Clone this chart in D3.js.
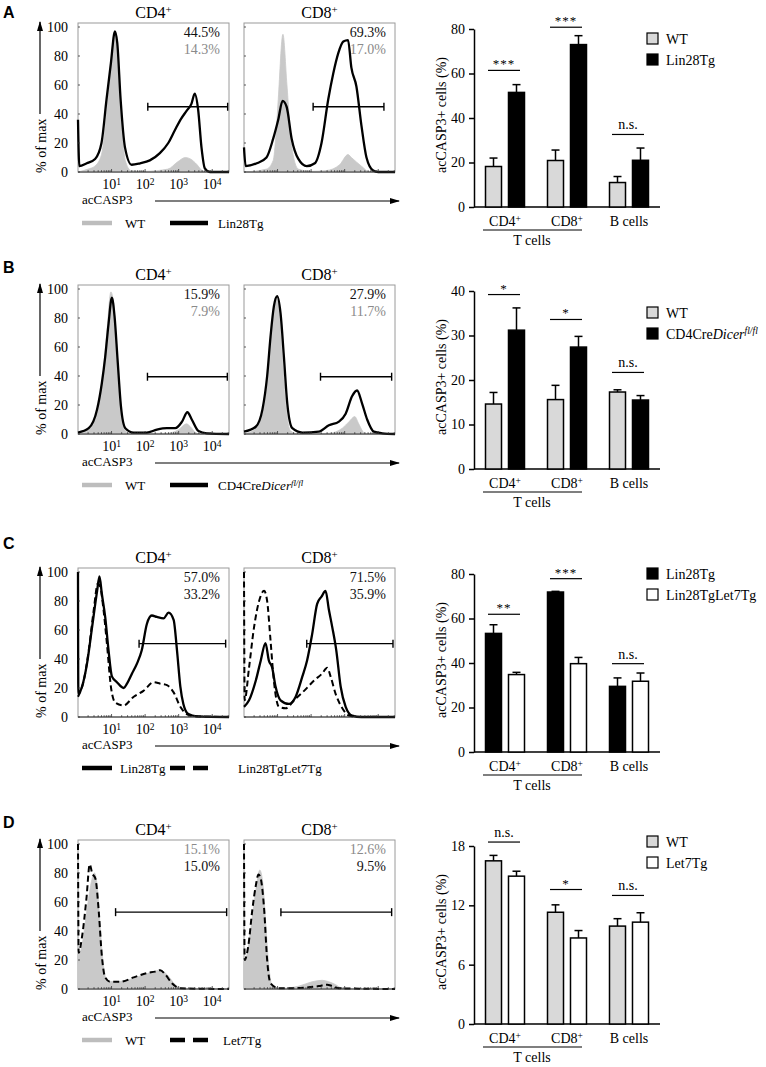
<!DOCTYPE html>
<html>
<head>
<meta charset="utf-8">
<script src="https://cdn.jsdelivr.net/npm/d3@7"></script>
<style>
body { margin: 0; background: #fff; }
svg text { font-family: "Liberation Serif", "Times New Roman", serif; }
</style>
</head>
<body>
<svg id="fig" width="766" height="1067"></svg>
<script>
// ---------- data ----------
// histogram x in log10 units (decades), y in % of max
const histTicks = [1, 2, 3, 4];
const histYTicks = [0, 20, 40, 60, 80, 100];
const groups = ["CD4", "CD8", "B cells"];

// A: WT vs Lin28Tg
const aCD4WT = [[0,0],[0.3,2],[0.5,4],[0.7,12],[0.85,40],[1.0,76],[1.1,94],[1.18,76],[1.28,40],[1.41,8],[1.58,1],[2.0,0.5],[2.68,2],[2.97,7],[3.2,10],[3.35,9],[3.55,5],[3.7,1],[3.9,0],[4.5,0]];
const aCD4Lin = [[0,36],[0.04,4],[0.26,6],[0.51,9],[0.7,20],[0.85,50],[0.98,75],[1.1,97],[1.17,89],[1.27,50],[1.4,17],[1.6,5],[1.85,6],[2.14,8],[2.44,13],[2.69,20],[2.89,29],[3.08,37],[3.23,42],[3.38,47],[3.48,54],[3.58,43],[3.68,17],[3.78,2.5],[3.93,0],[4.5,0]];
const aCD8WT = [[0,0],[0.67,2],[0.87,8],[0.95,25],[1.02,50],[1.16,95],[1.28,60],[1.42,18],[1.62,2],[2.0,0.5],[2.45,1],[2.85,5],[3.1,12],[3.2,10],[3.5,4],[3.75,0],[4.5,0]];
const aCD8Lin = [[0,17],[0.05,4],[0.38,6],[0.67,10],[0.87,23],[1.02,36],[1.15,49],[1.27,45],[1.42,23],[1.62,9],[1.87,4],[2.11,6],[2.31,20],[2.51,50],[2.66,68],[2.81,82],[2.96,90],[3.1,91],[3.2,72],[3.35,59],[3.5,32],[3.65,10],[3.85,1],[4.0,0],[4.5,0]];
const pctA = [["44.5%", "14.3%"], ["69.3%", "17.0%"]];
const gatesA = [[2.08, 4.46, 45], [2.06, 4.17, 45]];

// B: WT vs CD4Cre Dicer fl/fl
const bCD4WT = [[0,0],[0.32,3],[0.57,14],[0.71,33],[0.86,70],[0.98,98],[1.06,90],[1.16,51],[1.26,19],[1.38,3],[1.56,0.5],[2.65,0.5],[3.0,3],[3.23,7],[3.35,5],[3.5,1],[3.64,0],[4.5,0]];
const bCD4Dicer = [[0,1],[0.32,4],[0.57,17],[0.71,35],[0.81,53],[0.91,76],[1.01,94],[1.09,81],[1.18,51],[1.28,19],[1.41,4],[1.66,1],[2.05,1],[2.35,3],[2.65,4],[2.9,4],[3.1,8.5],[3.26,15],[3.39,10],[3.59,2],[3.84,0.5],[4.5,0]];
const bCD8WT = [[0,0],[0.35,4],[0.55,14],[0.69,37],[0.84,76],[0.96,95],[1.06,81],[1.16,47],[1.26,17],[1.39,2],[1.64,0],[2.53,0.5],[2.93,4],[3.13,8.5],[3.3,12],[3.42,7],[3.57,1],[3.72,0],[4.5,0]];
const bCD8Dicer = [[0,1.6],[0.35,5],[0.55,17],[0.69,40],[0.79,67],[0.89,88],[0.99,95],[1.09,83],[1.19,53],[1.29,21],[1.44,4],[1.74,1],[2.23,1.6],[2.53,6],[2.83,8.5],[3.03,14],[3.22,26],[3.37,30],[3.52,21],[3.67,10],[3.87,1.6],[4.12,0.5],[4.5,0]];
const pctB = [["15.9%", "7.9%"], ["27.9%", "11.7%"]];
const gatesB = [[2.07, 4.45, 39.5], [2.28, 4.4, 39.5]];

// C: Lin28Tg vs Lin28TgLet7Tg
const cCD4Lin = [[0,100],[0.01,16],[0.12,21],[0.27,37],[0.42,62],[0.57,87],[0.64,97],[0.71,85],[0.81,69],[0.91,46],[1.01,28],[1.16,24],[1.36,20],[1.46,23],[1.61,30],[1.76,37],[1.9,46],[2.05,64],[2.2,70],[2.35,69],[2.55,68],[2.7,72],[2.85,67],[2.95,46],[3.05,21],[3.14,9],[3.29,2],[3.54,0.5],[4.5,0]];
const cCD4Let = [[0,14],[0.17,25],[0.32,46],[0.47,74],[0.59,92],[0.66,90],[0.76,74],[0.86,51],[0.98,21],[1.11,10],[1.36,8],[1.66,14],[1.95,18],[2.25,24],[2.45,23],[2.65,22],[2.85,17],[3.05,7],[3.24,2],[3.44,0.5],[4.5,0]];
const cCD8Lin = [[0,7],[0.15,11.5],[0.35,25],[0.5,39],[0.64,51],[0.74,39],[0.84,34],[0.94,21],[1.09,11.5],[1.34,9],[1.54,14],[1.74,28],[1.88,39],[2.03,57],[2.18,78],[2.31,83],[2.43,87],[2.53,74],[2.63,62],[2.75,46],[2.88,21],[3.03,7],[3.22,1],[3.5,0],[4.5,0]];
const cCD8Let = [[0,100],[0.02,11.5],[0.15,34],[0.3,62],[0.45,80],[0.6,87],[0.69,80],[0.79,53],[0.89,25],[1.04,7],[1.24,6],[1.49,11.5],[1.79,18],[2.08,25],[2.33,30],[2.48,34],[2.58,28],[2.73,16],[2.93,6],[3.13,1],[3.4,0],[4.5,0]];
const pctC = [["57.0%", "33.2%"], ["71.5%", "35.9%"]];
const gatesC = [[1.82, 4.4, 50.6], [1.87, 4.44, 50.6]];

// D: WT vs Let7Tg
const dCD4WT = [[0,22],[0.12,30],[0.27,55],[0.39,73],[0.49,80],[0.59,67],[0.66,43],[0.76,16],[0.86,6],[1.06,5],[1.46,6],[1.86,9],[2.25,12],[2.45,13],[2.65,10],[2.9,3],[3.1,0.5],[4.5,0]];
const dCD4Let = [[0,100],[0.02,25],[0.12,36],[0.25,62],[0.35,86],[0.42,80],[0.52,76],[0.62,53],[0.71,23],[0.81,8],[0.96,5],[1.26,5],[1.66,8],[2.05,11],[2.3,12],[2.45,13],[2.6,10],[2.8,4],[3.05,0.5],[4.5,0]];
const dCD8WT = [[0,16],[0.1,25],[0.25,50],[0.37,71],[0.47,82],[0.57,71],[0.64,48],[0.74,16],[0.84,2],[1.14,0.5],[1.64,2],[2.03,5],[2.33,6],[2.53,5],[2.73,3],[2.93,0.5],[4.5,0]];
const dCD8Let = [[0,100],[0.02,20],[0.13,30],[0.25,55],[0.35,71],[0.43,79],[0.5,76],[0.6,55],[0.69,20],[0.79,4],[1.04,0.5],[1.44,0.5],[1.84,1],[2.23,2],[2.48,3],[2.63,2],[2.83,0.5],[4.5,0]];
const pctD = [["15.1%", "15.0%"], ["12.6%", "9.5%"]];
const gatesD = [[1.12, 4.43, 53], [1.1, 4.4, 53]];

// bar charts: mean and SEM per group (CD4, CD8, B cells)
const aWT = [18.2, 20.9, 11.0],   aWTsem = [3.8, 4.7, 2.7];
const aLin = [51.5, 73.0, 21.0],  aLinSem = [3.5, 4.0, 5.5];
const bWT = [14.6, 15.6, 17.3],   bWTsem = [2.6, 3.2, 0.5];
const bDicer = [31.2, 27.4, 15.5], bDicerSem = [5.0, 2.4, 1.0];
const cLin = [53.3, 71.9, 29.5],  cLinSem = [3.9, 0.3, 3.8];
const cLet = [34.8, 39.7, 31.8],  cLetSem = [1.0, 2.8, 3.7];
const dWT = [16.5, 11.3, 9.9],    dWTsem = [0.55, 0.75, 0.75];
const dLet = [14.95, 8.7, 10.3],  dLetSem = [0.5, 0.75, 0.95];

// significance marks: [group, label, height in axis units]
const sigA = [["CD4", "***", 61.4], ["CD8", "***", 80.8], ["B cells", "n.s.", 32.6]];
const sigB = [["CD4", "*", 39.2], ["CD8", "*", 33.6], ["B cells", "n.s.", 21.7]];
const sigC = [["CD4", "**", 61.9], ["CD8", "***", 77.9], ["B cells", "n.s.", 39.7]];
const sigD = [["CD4", "n.s.", 18.4], ["CD8", "*", 13.6], ["B cells", "n.s.", 13.0]];

const ticks80 = [0, 20, 40, 60, 80];
const ticks40 = [0, 10, 20, 30, 40];
const ticks18 = [0, 6, 12, 18];

const lblWT = [["WT"]];
const lblLin = [["Lin28Tg"]];
const lblLet = [["Lin28TgLet7Tg"]];
const lblLet7 = [["Let7Tg"]];
const lblDicer = [["CD4Cre"], ["Dicer", "i"], ["fl/fl", "is"]];

const GRAY_FILL = "#c9c9c9";
const BAR_GRAY = "#d9d9d9";
const SERIF = '"Liberation Serif", "Times New Roman", serif';

const rows = [
  { letter: "A", letterY: 18, y0: 172,
    curves: [[aCD4WT, aCD4Lin], [aCD8WT, aCD8Lin]], styles: ["fill", "solid"],
    pct: pctA, pctColors: ["#111", "#8a8a8a"], gates: gatesA,
    legend: [["fill", lblWT, 125], ["solid", lblLin, 218]],
    bar: { max: 80, ticks: ticks80, names: ["WT", "Lin28Tg"], labels: [lblWT, lblLin],
           means: [aWT, aLin], sems: [aWTsem, aLinSem], fills: [BAR_GRAY, "#000"], sig: sigA, legendTop: 33 } },
  { letter: "B", letterY: 273, y0: 434,
    curves: [[bCD4WT, bCD4Dicer], [bCD8WT, bCD8Dicer]], styles: ["fill", "solid"],
    pct: pctB, pctColors: ["#111", "#8a8a8a"], gates: gatesB,
    legend: [["fill", lblWT, 125], ["solid", lblDicer, 218]],
    bar: { max: 40, ticks: ticks40, names: ["WT", "Dicer"], labels: [lblWT, lblDicer],
           means: [bWT, bDicer], sems: [bWTsem, bDicerSem], fills: [BAR_GRAY, "#000"], sig: sigB, legendTop: 307 } },
  { letter: "C", letterY: 549, y0: 717,
    curves: [[cCD4Let, cCD4Lin], [cCD8Let, cCD8Lin]], styles: ["dash", "solid"],
    pct: pctC, pctColors: ["#111", "#111"], gates: gatesC,
    legend: [["solid", lblLin, 120], ["dash", lblLet, 238]],
    bar: { max: 80, ticks: ticks80, names: ["Lin28Tg", "Lin28TgLet7Tg"], labels: [lblLin, lblLet],
           means: [cLin, cLet], sems: [cLinSem, cLetSem], fills: ["#000", "#fff"], sig: sigC, legendTop: 568 } },
  { letter: "D", letterY: 828, y0: 989,
    curves: [[dCD4WT, dCD4Let], [dCD8WT, dCD8Let]], styles: ["fill", "dash"],
    pct: pctD, pctColors: ["#8a8a8a", "#111"], gates: gatesD,
    legend: [["fill", lblWT, 125], ["dash", lblLet7, 223]],
    bar: { max: 18, ticks: ticks18, names: ["WT", "Let7Tg"], labels: [lblWT, lblLet7],
           means: [dWT, dLet], sems: [dWTsem, dLetSem], fills: [BAR_GRAY, "#fff"], sig: sigD, legendTop: 836 } }
];

// ---------- drawing ----------
const svg = d3.select("#fig").attr("font-family", SERIF);

const defs = svg.append("defs");
defs.append("marker")
  .attr("id", "arrow")
  .attr("viewBox", "0 0 10 6")
  .attr("refX", 9).attr("refY", 3)
  .attr("markerWidth", 10).attr("markerHeight", 6)
  .attr("markerUnits", "userSpaceOnUse")
  .attr("orient", "auto")
  .append("path").attr("d", "M0,0 L10,3 L0,6 Z").attr("fill", "#000");

// text with italic / superscript parts
function rich(sel, parts) {
  parts.forEach(p => {
    const t = sel.append("tspan").text(p[0]);
    const f = p[1] || "";
    if (f.includes("i")) t.attr("font-style", "italic");
    if (f.includes("s")) t.attr("font-size", "0.68em").attr("dy", "-0.45em");
  });
  return sel;
}

const HW = 151;
const panelX = [78, 244];
const panelTitles = ["CD4", "CD8"];

function drawHist(row) {
  const y = d3.scaleLinear().domain([0, 100]).range([row.y0, row.y0 - 145]);
  const boxTop = row.y0 - 149;

  panelX.forEach((px, i) => {
    const x = d3.scaleLinear().domain([0, 4.5]).range([px, px + HW]);
    const g = svg.append("g");

    g.append("rect")
      .attr("x", px).attr("y", boxTop)
      .attr("width", HW).attr("height", row.y0 - boxTop)
      .attr("fill", "none").attr("stroke", "#9a9a9a").attr("stroke-width", 1);

    // title
    rich(g.append("text")
      .attr("x", px + HW / 2).attr("y", boxTop - 5)
      .attr("text-anchor", "middle").attr("font-size", 16), [[panelTitles[i]], ["+", "s"]]);

    // curves
    row.curves[i].forEach((c, k) => {
      const st = row.styles[k];
      if (st === "fill") {
        const area = d3.area().x(d => x(d[0])).y0(row.y0).y1(d => y(d[1])).curve(d3.curveMonotoneX);
        g.append("path").attr("d", area(c)).attr("fill", GRAY_FILL).attr("stroke", GRAY_FILL).attr("stroke-width", 0.8);
      } else {
        const line = d3.line().x(d => x(d[0])).y(d => y(d[1])).curve(d3.curveMonotoneX);
        g.append("path").attr("d", line(c))
          .attr("fill", "none").attr("stroke", "#000")
          .attr("stroke-width", st === "dash" ? 2 : 2.3)
          .attr("stroke-dasharray", st === "dash" ? "6,3.5" : null)
          .attr("stroke-linejoin", "round");
      }
    });

    // bottom axis with log minor ticks
    g.append("line").attr("x1", px).attr("x2", px + HW).attr("y1", row.y0).attr("y2", row.y0)
      .attr("stroke", "#333").attr("stroke-width", 1);
    const minor = [];
    for (let k = 0; k <= 4; k++) {
      for (let m = 1; m <= 9; m++) {
        const v = k + Math.log10(m);
        if (v > 0 && v < 4.5) minor.push([v, m === 1]);
      }
    }
    g.selectAll(".mt").data(minor).join("line")
      .attr("x1", d => x(d[0])).attr("x2", d => x(d[0]))
      .attr("y1", row.y0).attr("y2", d => row.y0 - (d[1] ? 3 : 1.8))
      .attr("stroke", "#333").attr("stroke-width", 0.8);

    // left ticks
    g.selectAll(".yt").data(histYTicks).join("line")
      .attr("x1", px).attr("x2", px + 2)
      .attr("y1", d => y(d)).attr("y2", d => y(d))
      .attr("stroke", "#333").attr("stroke-width", 0.8);

    if (i === 0) {
      g.selectAll(".yl").data(histYTicks).join("text")
        .attr("x", px - 10).attr("y", d => y(d)).attr("dy", "0.35em")
        .attr("text-anchor", "end").attr("font-size", 14)
        .text(d => d);
      histTicks.forEach(t => {
        rich(g.append("text").attr("x", x(t)).attr("y", row.y0 + 17)
          .attr("text-anchor", "middle").attr("font-size", 14), [["10"], [String(t), "s"]]);
      });
    }

    // gate
    const gt = row.gates[i];
    const gy = y(gt[2]);
    g.append("line").attr("x1", x(gt[0])).attr("x2", x(gt[1])).attr("y1", gy).attr("y2", gy)
      .attr("stroke", "#000").attr("stroke-width", 1.4);
    [gt[0], gt[1]].forEach(v => {
      g.append("line").attr("x1", x(v)).attr("x2", x(v)).attr("y1", gy - 4).attr("y2", gy + 4)
        .attr("stroke", "#000").attr("stroke-width", 1.4);
    });

    // percentages
    row.pct[i].forEach((p, k) => {
      g.append("text").attr("x", px + HW - 9).attr("y", boxTop + 14 + k * 17)
        .attr("text-anchor", "end").attr("font-size", 14)
        .attr("fill", row.pctColors[k]).text(p);
    });
  });

  // y arrow + label
  svg.append("line").attr("x1", 40).attr("x2", 40)
    .attr("y1", row.y0 - 58).attr("y2", row.y0 - 150)
    .attr("stroke", "#000").attr("stroke-width", 1.2).attr("marker-end", "url(#arrow)");
  svg.append("text").attr("transform", `translate(46,${row.y0 + 1}) rotate(-90)`)
    .attr("font-size", 14).attr("text-anchor", "start").text("% of max");

  // x label + arrow
  svg.append("text").attr("x", 82).attr("y", row.y0 + 32).attr("font-size", 13).text("acCASP3");
  svg.append("line").attr("x1", 155).attr("x2", 399)
    .attr("y1", row.y0 + 29).attr("y2", row.y0 + 29)
    .attr("stroke", "#000").attr("stroke-width", 1.2).attr("marker-end", "url(#arrow)");

  // legend
  const ly = row.y0 + 51;
  row.legend.forEach((it, k) => {
    const lx = k === 0 ? [82, 112] : [170, 208];
    const st = it[0];
    svg.append("line").attr("x1", lx[0]).attr("x2", lx[1]).attr("y1", ly).attr("y2", ly)
      .attr("stroke", st === "fill" ? "#bdbdbd" : "#000")
      .attr("stroke-width", 4.5)
      .attr("stroke-dasharray", st === "dash" ? "15,8" : null);
    rich(svg.append("text").attr("x", it[2]).attr("y", ly + 5).attr("font-size", 13), it[1]);
  });

  // panel letter
  svg.append("text").attr("x", 3).attr("y", row.letterY)
    .style("font-family", '"Liberation Sans", Arial, sans-serif')
    .attr("font-weight", "bold").attr("font-size", 16).text(row.letter);
}

function drawBars(row) {
  const b = row.bar;
  const y0 = row.y0 + 35;
  const y = d3.scaleLinear().domain([0, b.max]).range([y0, y0 - 178]);
  const x = d3.scaleBand().domain(groups).range([474, 660]);
  const xs = d3.scaleBand().domain(b.names).range([11.5, 50.5]).paddingInner(0.304);
  const g = svg.append("g");

  const ax = g.append("g").attr("transform", "translate(474,0)")
    .call(d3.axisLeft(y).tickValues(b.ticks).tickSize(5).tickSizeOuter(0).tickPadding(4));
  ax.attr("font-family", SERIF);
  ax.selectAll("text").attr("font-size", 14).attr("fill", "#000");
  ax.selectAll("line").attr("stroke-width", 1.5);
  ax.select(".domain").attr("stroke-width", 1.5);

  g.append("line").attr("x1", 474).attr("x2", 660).attr("y1", y0).attr("y2", y0)
    .attr("stroke", "#000").attr("stroke-width", 1.5);

  const bars = [];
  groups.forEach((grp, gi) => {
    b.names.forEach((s, si) => {
      bars.push({ grp, s, m: b.means[si][gi], e: b.sems[si][gi], fill: b.fills[si] });
    });
  });

  g.selectAll(".err").data(bars).join("g").each(function (d) {
    const cx = x(d.grp) + xs(d.s) + xs.bandwidth() / 2;
    const sel = d3.select(this);
    sel.append("line").attr("x1", cx).attr("x2", cx).attr("y1", y(d.m)).attr("y2", y(d.m + d.e))
      .attr("stroke", "#000").attr("stroke-width", 1.5);
    sel.append("line").attr("x1", cx - 4).attr("x2", cx + 4).attr("y1", y(d.m + d.e)).attr("y2", y(d.m + d.e))
      .attr("stroke", "#000").attr("stroke-width", 1.5);
  });

  g.selectAll(".bar").data(bars).join("rect")
    .attr("x", d => x(d.grp) + xs(d.s))
    .attr("y", d => y(d.m))
    .attr("width", xs.bandwidth())
    .attr("height", d => y0 - y(d.m))
    .attr("fill", d => d.fill)
    .attr("stroke", "#000").attr("stroke-width", 1.5);

  // significance
  b.sig.forEach(s => {
    const sy = y(s[2]);
    const gx = x(s[0]);
    g.append("line").attr("x1", gx + 14).attr("x2", gx + 46).attr("y1", sy).attr("y2", sy)
      .attr("stroke", "#000").attr("stroke-width", 1.2);
    g.append("text").attr("x", gx + 30).attr("y", s[1] === "n.s." ? sy - 5 : sy - 2)
      .attr("text-anchor", "middle").attr("font-size", s[1] === "n.s." ? 14 : 13)
      .attr("letter-spacing", s[1] === "n.s." ? 0 : 1)
      .text(s[1]);
  });

  // x labels
  groups.forEach(grp => {
    const t = g.append("text").attr("x", x(grp) + 31).attr("y", y0 + 19)
      .attr("text-anchor", "middle").attr("font-size", 14);
    if (grp === "B cells") t.text(grp);
    else rich(t, [[grp], ["+", "s"]]);
  });
  g.append("line").attr("x1", x("CD4") + 9).attr("x2", x("CD8") + 46)
    .attr("y1", y0 + 23).attr("y2", y0 + 23).attr("stroke", "#000").attr("stroke-width", 1.2);
  g.append("text").attr("x", 532).attr("y", y0 + 38).attr("text-anchor", "middle")
    .attr("font-size", 14).text("T cells");

  // y label
  g.append("text").attr("transform", `translate(446,${y0 - 92}) rotate(-90)`)
    .attr("text-anchor", "middle").attr("font-size", 14).text("acCASP3+ cells (%)");

  // legend
  b.names.forEach((s, si) => {
    const ly = b.legendTop + si * 21;
    g.append("rect").attr("x", 647).attr("y", ly).attr("width", 11).attr("height", 11)
      .attr("fill", b.fills[si]).attr("stroke", "#000").attr("stroke-width", 1.2);
    rich(g.append("text").attr("x", 666).attr("y", ly + 10.5).attr("font-size", 14), b.labels[si]);
  });
}

rows.forEach(r => { drawHist(r); drawBars(r); });
</script>
</body>
</html>
